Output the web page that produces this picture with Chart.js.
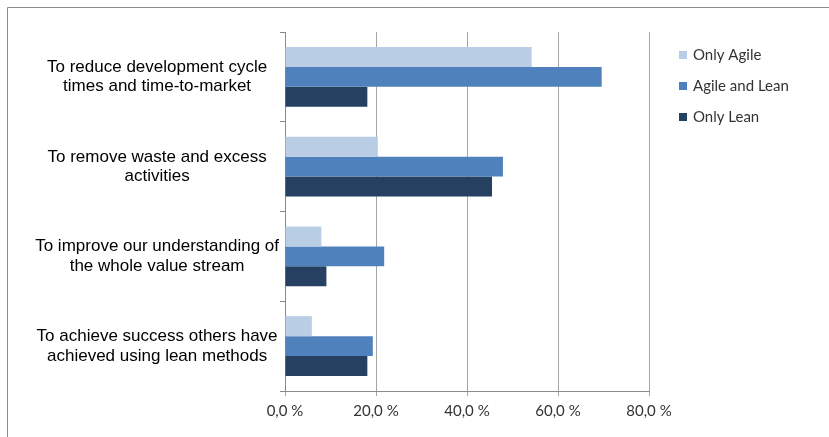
<!DOCTYPE html>
<html lang="en">
<head>
  <meta charset="UTF-8">
  <title>Reasons for adopting Lean</title>
  <script src="https://cdn.jsdelivr.net/npm/chart.js"></script>
  <style>
    html, body { margin: 0; padding: 0; background: #fff; }
    #wrap { width: 829px; height: 437px; position: relative; }
  </style>
</head>
<body>
  <div id="wrap"><canvas id="reasonsChart"></canvas></div>
  <script>
    const reasons = [
      ['To reduce development cycle', 'times and time-to-market'],
      ['To remove waste and excess', 'activities'],
      ['To improve our understanding of', 'the whole value stream'],
      ['To achieve success others have', 'achieved using lean methods']
    ];
    const seriesNames = ['Only Agile', 'Agile and Lean', 'Only Lean'];
    const onlyAgile = [54.2, 20.4, 8.0, 5.9];
    const agileAndLean = [69.6, 47.9, 21.8, 19.3];
    const onlyLean = [18.1, 45.5, 9.1, 18.1];
    const xTicks = [0, 20, 40, 60, 80];
    const colors = ['#B9CDE5', '#4F81BD', '#254061'];

    // outer frame (top and left edges) and the legend on the right
    const framePlugin = {
      id: 'frame',
      beforeDraw(chart) {
        const ctx = chart.ctx;
        ctx.save();
        ctx.strokeStyle = '#8a8a8a';
        ctx.lineWidth = 1;
        ctx.beginPath();
        ctx.moveTo(7.5, 437);
        ctx.lineTo(7.5, 7.5);
        ctx.lineTo(829, 7.5);
        ctx.stroke();
        ctx.restore();
      },
      afterDraw(chart) {
        const ctx = chart.ctx;
        ctx.save();
        ctx.font = '15px Lato, "Open Sans", sans-serif';
        ctx.textBaseline = 'middle';
        chart.data.datasets.forEach((ds, i) => {
          const y = 55 + i * 31;
          ctx.fillStyle = ds.backgroundColor;
          ctx.fillRect(679, y - 4, 8, 8);
          ctx.fillStyle = '#333';
          ctx.fillText(ds.label, 693, y);
        });
        ctx.restore();
      }
    };

    new Chart(document.getElementById('reasonsChart'), {
      type: 'bar',
      data: {
        labels: reasons,
        datasets: [
          { label: seriesNames[0], data: onlyAgile, backgroundColor: colors[0] },
          { label: seriesNames[1], data: agileAndLean, backgroundColor: colors[1] },
          { label: seriesNames[2], data: onlyLean, backgroundColor: colors[2] }
        ]
      },
      options: {
        indexAxis: 'y',
        responsive: true,
        maintainAspectRatio: false,
        animation: false,
        datasets: {
          bar: { categoryPercentage: 0.668, barPercentage: 1.0 }
        },
        layout: { padding: { top: 32, right: 180, left: 0, bottom: 0 } },
        plugins: {
          legend: { display: false },
          tooltip: { enabled: false }
        },
        scales: {
          x: {
            min: xTicks[0],
            max: xTicks[xTicks.length - 1],
            afterBuildTicks(axis) {
              axis.ticks = xTicks.map(v => ({ value: v }));
            },
            afterFit(axis) { axis.height = 46; },
            ticks: {
              color: '#333',
              font: { family: 'Lato, "Open Sans", sans-serif', size: 15 },
              padding: 6,
              callback: v => v.toFixed(1).replace('.', ',') + ' %'
            },
            grid: { color: '#a6a6a6', tickLength: 5 },
            border: { color: '#8a8a8a' }
          },
          y: {
            afterFit(axis) { axis.width = 285; },
            grid: {
              offset: true,
              drawOnChartArea: false,
              tickLength: 5,
              color: '#8a8a8a'
            },
            border: { color: '#8a8a8a' },
            ticks: {
              crossAlign: 'center',
              padding: 1,
              color: '#000',
              font: { family: '"Liberation Sans", Arial, sans-serif', size: 17, lineHeight: 1.15 }
            }
          }
        }
      },
      plugins: [framePlugin]
    });
  </script>
</body>
</html>
